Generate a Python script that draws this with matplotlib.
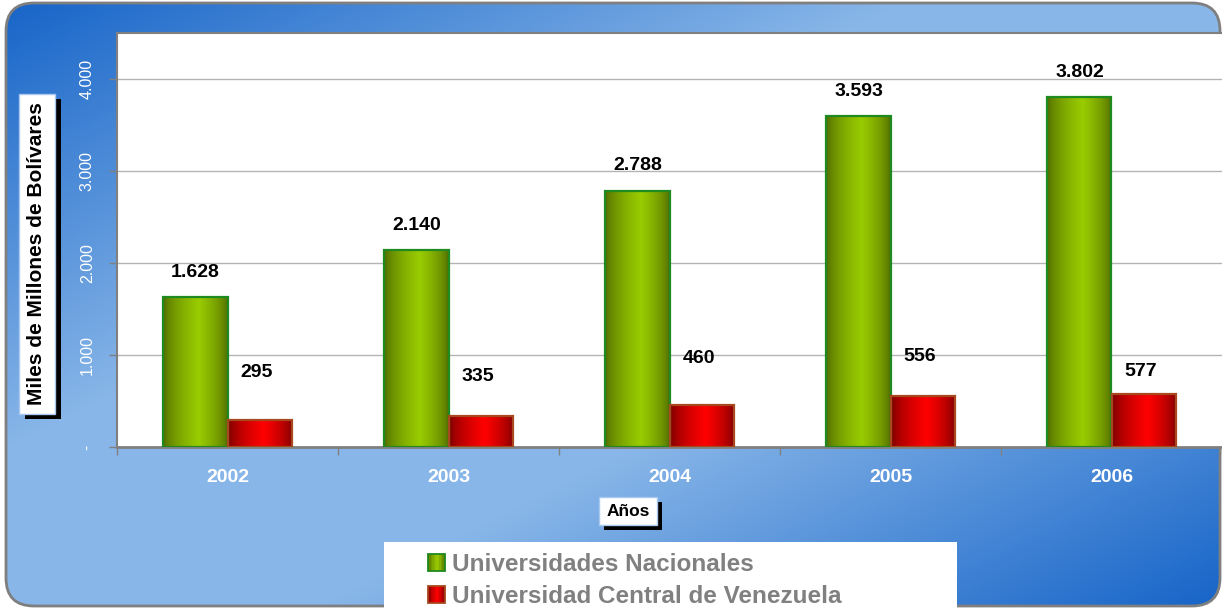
import numpy as np
import matplotlib
matplotlib.use('Agg')
import matplotlib.pyplot as plt
from matplotlib.patches import FancyBboxPatch, Rectangle
from matplotlib.legend_handler import HandlerBase

# ---------------- data ----------------
years = ['2002', '2003', '2004', '2005', '2006']
nacionales = [1628, 2140, 2788, 3593, 3802]
ucv = [295, 335, 460, 556, 577]
series_names = ['Universidades Nacionales', 'Universidad Central de Venezuela']
y_ticks = [0, 1000, 2000, 3000, 4000]
y_tick_labels = ['-', '1.000', '2.000', '3.000', '4.000']
y_label = 'Miles de Millones de Bolívares'
x_label = 'Años'

# ---------------- style ----------------
ucv_label_offsets_px = [47, 40, 46, 39, 22]
green_dark, green_light, green_edge = (0.30, 0.40, 0.0), (0.60, 0.80, 0.0), '#1f8a1f'
red_dark, red_light, red_edge = (0.45, 0.0, 0.0), (1.0, 0.0, 0.0), '#a8481e'

W, H, DPI = 1222, 609, 100
plt.rcParams['font.family'] = ['Liberation Sans', 'DejaVu Sans']

fig = plt.figure(figsize=(W / DPI, H / DPI), dpi=DPI)

# ---------------- background ----------------
bg = fig.add_axes([0, 0, 1, 1])
bg.set_xlim(0, W)
bg.set_ylim(H, 0)
bg.axis('off')
xx, yy = np.meshgrid(np.linspace(0, 1, 400), np.linspace(0, 1, 200))
t = (xx + yy) / 2
wgt = np.clip((1 - np.abs(2 * t - 1)) * 1.35, 0, 1)
dark = np.array([22, 100, 200]) / 255
light = np.array([136, 182, 232]) / 255
img = dark[None, None, :] * (1 - wgt[..., None]) + light[None, None, :] * wgt[..., None]
frame = FancyBboxPatch((6, 3), 1214, 603, boxstyle='round,pad=0,rounding_size=28',
                       fc='none', ec='#7f7f7f', lw=2, zorder=1)
bg.add_patch(frame)
im = bg.imshow(img, extent=[0, W, H, 0], aspect='auto', zorder=0)
im.set_clip_path(frame)
bg.set_xlim(0, W)
bg.set_ylim(H, 0)

# legend white box
bg.add_patch(Rectangle((384, 542), 573, 70, fc='white', ec='none', zorder=2))


def grad_colors(cd, cl, n):
    s = np.linspace(0, 1, n)
    peak = 0.55
    v = np.where(s < peak, s / peak, (1 - s) / (1 - peak))
    v = np.clip(v, 0, 1) ** 0.6
    cd = np.array(cd)
    cl = np.array(cl)
    return cd[None, :] * (1 - v[:, None]) + cl[None, :] * v[:, None]


# ---------------- main axes ----------------
ax = fig.add_axes([117 / W, 1 - 447 / H, (W - 117) / W, (447 - 33) / H])
ax.set_facecolor('white')
x = np.arange(len(years))
bw = 0.29
bars_n = ax.bar(x - bw / 2, nacionales, bw, fc='none', ec=green_edge, lw=1.6, zorder=3)
bars_u = ax.bar(x + bw / 2, ucv, bw, fc='none', ec=red_edge, lw=1.6, zorder=3)

for bars, cd, cl in ((bars_n, green_dark, green_light), (bars_u, red_dark, red_light)):
    g = grad_colors(cd, cl, 64)[None, :, :]
    for b in bars:
        x0, w, h = b.get_x(), b.get_width(), b.get_height()
        gi = ax.imshow(g, extent=[x0, x0 + w, 0, h], aspect='auto', zorder=2, interpolation='bilinear')
        gi.set_clip_path(b)

ax.set_xlim(-0.5, len(years) - 0.5)
ax.set_ylim(0, 4500)


def fmt(v):
    return f'{v:,}'.replace(',', '.')


for b, v in zip(bars_n, nacionales):
    ax.annotate(fmt(v), (b.get_x() + b.get_width() / 2, v), xytext=(0, 25 * 72 / DPI),
                textcoords='offset points', ha='center', va='center',
                fontsize=14, fontweight='bold', color='black', zorder=5)
for b, v, off in zip(bars_u, ucv, ucv_label_offsets_px):
    ax.annotate(fmt(v), (b.get_x() + b.get_width() / 2, v), xytext=(-2, off * 72 / DPI),
                textcoords='offset points', ha='center', va='center',
                fontsize=14, fontweight='bold', color='black', zorder=5)

ax.set_yticks(y_ticks)
ax.set_yticklabels(y_tick_labels, rotation=90, va='center', color='white', fontsize=11.5)
ax.yaxis.grid(True, color='#b4b4b4', lw=1)
ax.set_axisbelow(True)
ax.tick_params(axis='y', length=6, color='#808080', width=1, pad=10)

ax.set_xticks(x)
ax.set_xticklabels(years, fontsize=14, fontweight='bold', color='white')
ax.tick_params(axis='x', which='major', length=0, pad=16)
ax.set_xticks(np.arange(-0.5, len(years), 1), minor=True)
ax.tick_params(axis='x', which='minor', length=6, color='#808080', width=1)

for s in ('left', 'top'):
    ax.spines[s].set_color('#808080')
    ax.spines[s].set_linewidth(1.5)
ax.spines['bottom'].set_color('#808080')
ax.spines['bottom'].set_linewidth(2)
ax.spines['right'].set_visible(False)

# ---------------- axis title boxes ----------------
boxed = []


def boxed_text(xc, yc, text, size, rot, pad, dx, dy):
    tx = fig.text(xc, yc, text, rotation=rot, ha='center', va='center', fontsize=size,
                  fontweight='bold', color='black',
                  bbox=dict(boxstyle=f'square,pad={pad}', fc='white', ec='#a8c8f0', lw=1), zorder=11)
    boxed.append((tx, dx, dy))


boxed_text(37 / W, 1 - 254 / H, y_label, 15, 90, 0.42, 6, 5)
boxed_text(628 / W, 1 - 511 / H, x_label, 12.5, 0, 0.4, 5, 5)

# ---------------- legend ----------------
class GradHandler(HandlerBase):
    def __init__(self, cd, cl, edge):
        super().__init__()
        self.cols = grad_colors(cd, cl, 12)
        self.edge = edge

    def create_artists(self, legend, orig_handle, xdescent, ydescent, width, height, fontsize, trans):
        n = len(self.cols)
        arts = []
        for k in range(n):
            arts.append(Rectangle((-xdescent + width * k / n, -ydescent), width / n * 1.05, height,
                                  fc=self.cols[k], ec='none', transform=trans))
        arts.append(Rectangle((-xdescent, -ydescent), width, height, fc='none', ec=self.edge,
                              lw=1.3, transform=trans))
        return arts


h1 = Rectangle((0, 0), 1, 1)
h2 = Rectangle((0, 0), 1, 1)
fig.legend(handles=[h1, h2], labels=series_names, loc='upper left',
           bbox_to_anchor=(428 / W, 1 - 553 / H), frameon=False,
           prop={'weight': 'bold', 'size': 17.5}, labelcolor='#808080',
           handlelength=0.7, handleheight=0.7, handletextpad=0.3, labelspacing=0.38,
           borderpad=0, borderaxespad=0,
           handler_map={h1: GradHandler(green_dark, green_light, green_edge),
                        h2: GradHandler(red_dark, red_light, red_edge)})

# shadows behind the boxed titles (computed from the drawn box extents)
fig.canvas.draw()
for tx, dx, dy in boxed:
    bb = tx.get_bbox_patch().get_window_extent()
    bg.add_patch(Rectangle((bb.x0 + dx, H - bb.y1 + dy), bb.width, bb.height,
                           fc='black', ec='none', zorder=3))

fig.savefig('out.png', dpi=DPI)
